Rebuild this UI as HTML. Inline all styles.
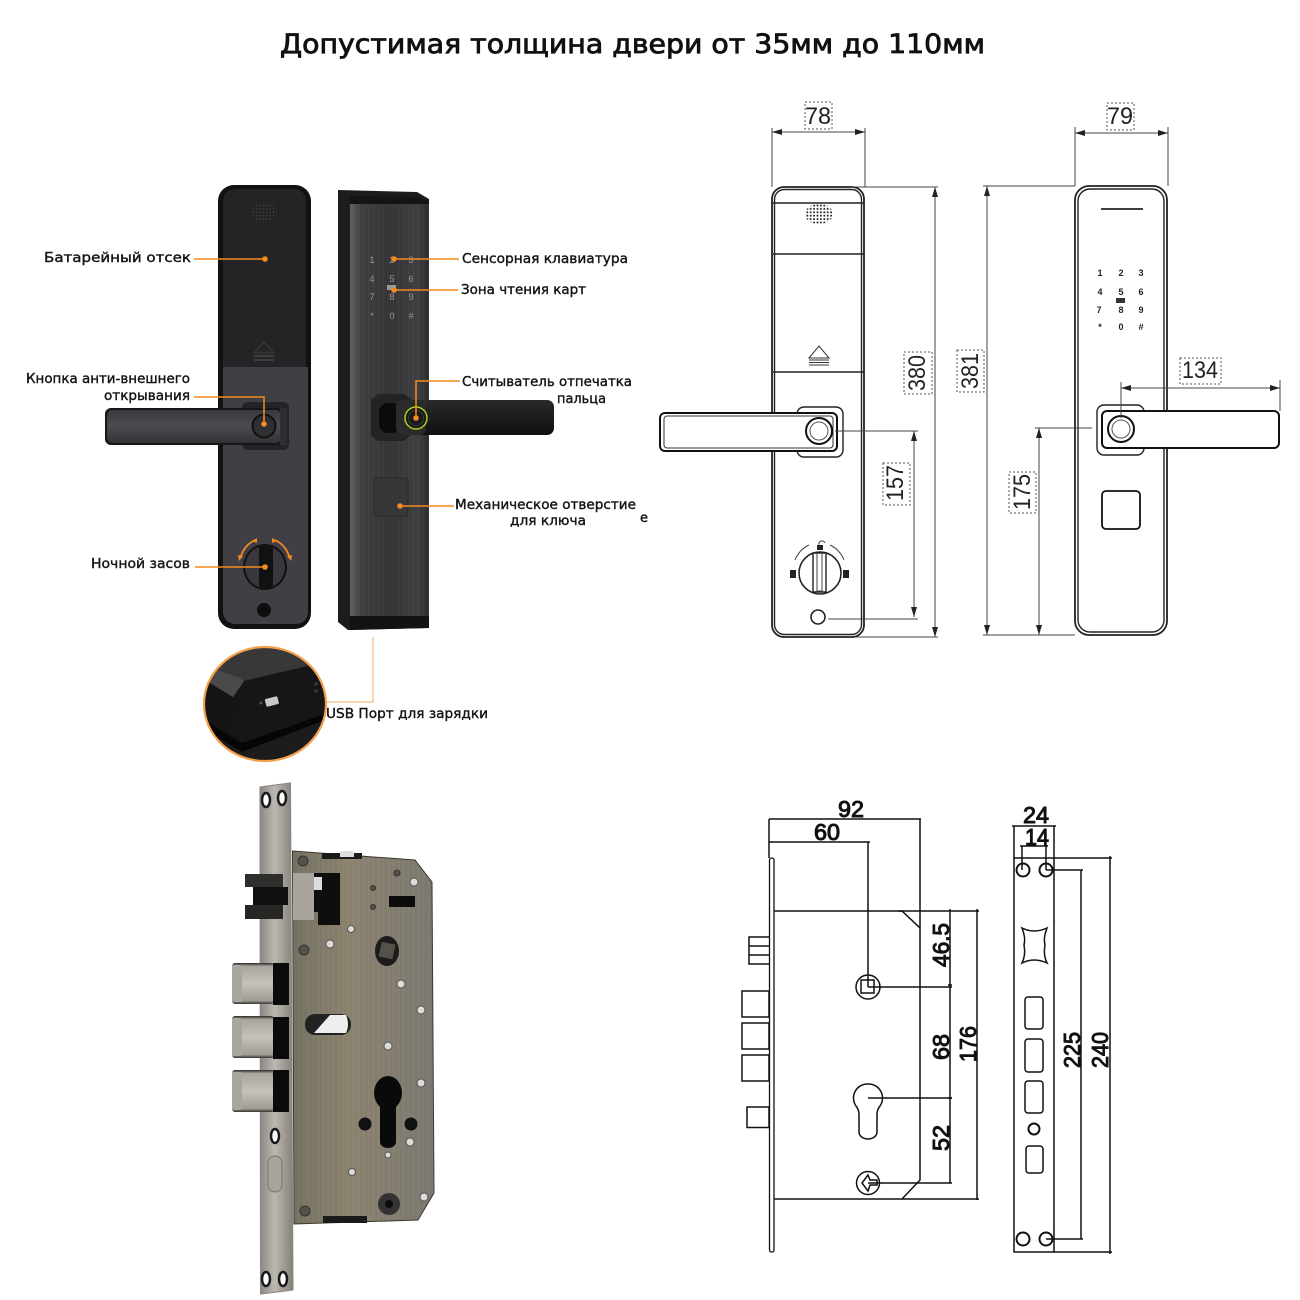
<!DOCTYPE html>
<html lang="ru"><head><meta charset="utf-8"><title>Замок</title>
<style>html,body{margin:0;padding:0;background:#fff}svg{display:block}
.l{font:13px "DejaVu Sans","Liberation Sans",sans-serif;fill:#141414;stroke:#141414;stroke-width:.38}
.d{font:24px "Liberation Sans",sans-serif;fill:#222}
.m{font:23px "Liberation Sans",sans-serif;fill:#111;stroke:#111;stroke-width:1}
.k{font:bold 9px "Liberation Sans",sans-serif;fill:#222;text-anchor:middle}
.f{font:9px "Liberation Sans",sans-serif;fill:#98989b;text-anchor:middle}
.o{stroke:#f58a1f;stroke-width:1.5;fill:none}
.t{stroke:#444;stroke-width:1;fill:none}
.s{stroke:#222;stroke-width:1.4;fill:none}
.b{stroke:#111;stroke-width:1.5;fill:none}
.x{fill:none;stroke:#555;stroke-width:1;stroke-dasharray:2 2}
</style></head><body>
<svg width="1300" height="1300" viewBox="0 0 1300 1300" xmlns="http://www.w3.org/2000/svg">
<defs>
<marker id="a" viewBox="0 0 10 6" refX="10" refY="3" markerWidth="10" markerHeight="6" orient="auto-start-reverse" markerUnits="userSpaceOnUse"><path d="M0 0L10 3L0 6Z" fill="#222"/></marker>
<linearGradient id="fr" x1="0" x2="1" y1="0" y2="0"><stop offset="0" stop-color="#626264"/><stop offset=".14" stop-color="#414143"/><stop offset=".5" stop-color="#363638"/><stop offset=".85" stop-color="#404042"/><stop offset="1" stop-color="#2e2e30"/></linearGradient>
<linearGradient id="hd" x1="0" x2="0" y1="0" y2="1"><stop offset="0" stop-color="#2a2a2c"/><stop offset=".5" stop-color="#1c1c1e"/><stop offset="1" stop-color="#101011"/></linearGradient>
<linearGradient id="hl" x1="0" x2="0" y1="0" y2="1"><stop offset="0" stop-color="#3a393e"/><stop offset=".5" stop-color="#4c4b50"/><stop offset="1" stop-color="#333237"/></linearGradient>
<linearGradient id="fp" x1="0" x2="1" y1="0" y2="0"><stop offset="0" stop-color="#8c8782"/><stop offset=".45" stop-color="#bcb8b1"/><stop offset="1" stop-color="#85807a"/></linearGradient>
<linearGradient id="bd" x1="0" x2="1" y1="0" y2="0"><stop offset="0" stop-color="#767264"/><stop offset=".4" stop-color="#8d8470"/><stop offset="1" stop-color="#7d7a72"/></linearGradient>
<linearGradient id="bt" x1="0" x2="0" y1="0" y2="1"><stop offset="0" stop-color="#2a2927"/><stop offset=".08" stop-color="#a9a59d"/><stop offset=".5" stop-color="#c6c2ba"/><stop offset=".92" stop-color="#a19d95"/><stop offset="1" stop-color="#35332f"/></linearGradient>
<pattern id="br" width="5" height="40" patternUnits="userSpaceOnUse"><path d="M1 0V40" stroke="#000" stroke-opacity=".18"/><path d="M3.5 0V40" stroke="#fff" stroke-opacity=".05"/></pattern>
<pattern id="dot" width="3.4" height="3.4" patternUnits="userSpaceOnUse"><circle cx="1.5" cy="1.5" r=".8" fill="#444"/></pattern>
<pattern id="dot2" width="3.4" height="3.4" patternUnits="userSpaceOnUse"><circle cx="1.5" cy="1.5" r="1" fill="#222"/></pattern>
<clipPath id="usb"><ellipse cx="265" cy="704" rx="60" ry="56"/></clipPath>
</defs>

<text x="280" y="53" font-family="'DejaVu Sans','Liberation Sans',sans-serif" font-size="27" fill="#111" stroke="#111" stroke-width=".85" textLength="705" lengthAdjust="spacingAndGlyphs">Допустимая толщина двери от 35мм до 110мм</text>

<!-- BACK PLATE PHOTO -->
<rect x="218" y="185" width="93" height="444" rx="16" fill="#121213"/>
<path d="M223 201a12 12 0 0 1 12-12h59a12 12 0 0 1 12 12V367H223Z" fill="#242426"/>
<path d="M223 367H308V612a12 12 0 0 1-12 12H235a12 12 0 0 1-12-12Z" fill="#403f45"/>
<ellipse cx="264" cy="212" rx="13" ry="10" fill="url(#dot)"/>
<path d="M264 342L254 353H274Z" fill="none" stroke="#3d3d40"/>
<rect x="254" y="355" width="20" height="2" fill="#3d3d40"/><rect x="254" y="359" width="20" height="2" fill="#3d3d40"/>
<rect x="242" y="402" width="47" height="48" rx="6" fill="#232325"/>
<rect x="105" y="408" width="178" height="37" rx="6" fill="#171718"/>
<rect x="107" y="410" width="174" height="33" rx="5" fill="url(#hl)"/>
<rect x="280" y="408" width="7" height="37" fill="#2f2e32"/>
<circle cx="264" cy="426" r="12.500" fill="#111"/><circle cx="264" cy="426" r="10.500" fill="#2f2e31"/>
<ellipse cx="265" cy="567" rx="22" ry="23" fill="#111"/><ellipse cx="265" cy="567" rx="20" ry="21" fill="#39383d"/>
<rect x="259" y="546" width="14" height="42" rx="3" fill="#111"/>
<path d="M241 556a27 27 0 0 1 14-16M289 556a27 27 0 0 0-14-16" stroke="#f58a1f" stroke-width="1.8" fill="none"/>
<path d="M239 561l-1-6 5 1ZM291 561l1-6-5 1ZM257 538l0 5-5-2ZM272 538l0 5 5-2Z" fill="#f58a1f"/>
<circle cx="264" cy="610" r="7" fill="#0e0e0f"/>

<!-- FRONT PLATE PHOTO -->
<path d="M338 190L417 192L429 199V628L348 630L338 622Z" fill="#1c1c1d"/>
<rect x="350" y="203" width="79" height="413" fill="url(#fr)"/>
<rect x="350" y="203" width="79" height="413" fill="url(#br)" opacity=".4"/>
<path d="M350 196L417 197L429 201V204H350Z" fill="#141416"/>
<path d="M350 616H429V628L350 630Z" fill="#131314"/>
<text class="f" x="372" y="263">1</text><text class="f" x="392" y="263">2</text><text class="f" x="411" y="263">3</text>
<text class="f" x="372" y="282">4</text><text class="f" x="392" y="282">5</text><text class="f" x="411" y="282">6</text>
<text class="f" x="372" y="300">7</text><text class="f" x="392" y="300">8</text><text class="f" x="411" y="300">9</text>
<text class="f" x="372" y="319">*</text><text class="f" x="392" y="319">0</text><text class="f" x="411" y="319">#</text>
<rect x="387" y="285" width="9" height="5" fill="#999"/>
<path d="M371 400L378 394H404L412 400V434L404 441H378L371 436Z" fill="#242425"/>
<rect x="379" y="403" width="22" height="30" rx="9" fill="#0b0b0c"/>
<rect x="396" y="400" width="158" height="35" rx="7" fill="url(#hd)"/>
<rect x="396" y="400" width="30" height="35" rx="7" fill="#2b2b2d"/>
<circle cx="416" cy="418" r="11" fill="#1a1a1b" stroke="#a5d21e" stroke-width="1.5"/>
<circle cx="416" cy="418" r="7.500" fill="none" stroke="#3a3a3c"/>
<rect x="374" y="478" width="34" height="38" rx="3" fill="#37373a" stroke="#29292b"/>

<!-- USB inset -->
<ellipse cx="265" cy="704" rx="61" ry="57" fill="#151516"/>
<g clip-path="url(#usb)">
<path d="M200 640H330V660L308 666L244 681L233 697L207 681L200 675Z" fill="#38383a"/>
<path d="M207 681L233 697L244 681L240 678L212 668Z" fill="#4a4a4c"/>
<path d="M244 681L308 666L330 660V712L242 743L233 725Z" fill="#161617"/>
<path d="M207 722L242 743L325 714V720L242 752L205 730Z" fill="#060607"/>
<path d="M205 730L242 752L325 720V770H200Z" fill="#1c1c1d"/>
<rect x="265" y="697" width="14" height="9" rx="2" fill="#c9c9c9" stroke="#111" transform="rotate(-14 272 702)"/>
<circle cx="261" cy="703" r="1.500" fill="#555"/>
<circle cx="316" cy="684" r="2" fill="#333"/><circle cx="316" cy="691" r="2" fill="#333"/>
</g>
<ellipse cx="265" cy="704" rx="61" ry="57" fill="none" stroke="#f5a04a" stroke-width="2.2"/>
<path d="M373 637V702H326" stroke="#f5a862" stroke-width="1" fill="none"/>

<!-- Leaders -->
<path class="o" d="M194 259H264"/><circle cx="265" cy="259" r="2.800" fill="#f58a1f"/>
<path class="o" d="M394 259H459"/><circle cx="394" cy="259" r="2.800" fill="#f58a1f"/>
<path class="o" d="M394 290H458"/><circle cx="394" cy="290" r="2.800" fill="#f58a1f"/>
<path class="o" d="M194 397H264V425"/><circle cx="264" cy="424" r="2.800" fill="#f58a1f"/>
<path class="o" d="M460 381H416V418"/><circle cx="416" cy="418" r="2.800" fill="#f58a1f"/>
<path class="o" d="M454 506H400"/><circle cx="400" cy="506" r="2.800" fill="#f58a1f"/>
<path class="o" d="M195 567H265"/><circle cx="265" cy="567" r="2.800" fill="#f58a1f"/>

<text class="l" x="44" y="262" textLength="147" lengthAdjust="spacingAndGlyphs">Батарейный отсек</text>
<text class="l" x="26" y="383" textLength="164" lengthAdjust="spacingAndGlyphs">Кнопка анти-внешнего</text>
<text class="l" x="104" y="400" textLength="86" lengthAdjust="spacingAndGlyphs">открывания</text>
<text class="l" x="91" y="568" textLength="99" lengthAdjust="spacingAndGlyphs">Ночной засов</text>
<text class="l" x="462" y="263" textLength="166" lengthAdjust="spacingAndGlyphs">Сенсорная клавиатура</text>
<text class="l" x="461" y="294" textLength="125" lengthAdjust="spacingAndGlyphs">Зона чтения карт</text>
<text class="l" x="462" y="386" textLength="170" lengthAdjust="spacingAndGlyphs">Считыватель отпечатка</text>
<text class="l" x="557" y="403" textLength="49" lengthAdjust="spacingAndGlyphs">пальца</text>
<text class="l" x="455" y="509" textLength="181" lengthAdjust="spacingAndGlyphs">Механическое отверстие</text>
<text class="l" x="510" y="525" textLength="76" lengthAdjust="spacingAndGlyphs">для ключа</text>
<text class="l" x="326" y="718" textLength="162" lengthAdjust="spacingAndGlyphs">USB Порт для зарядки</text>
<text class="l" x="640" y="522" font-size="9">e</text>

<!-- TECH DRAWING TOP LEFT -->
<rect x="772" y="187" width="92" height="450" rx="12" fill="none" stroke="#222" stroke-width="1.8"/>
<rect x="774.500" y="189.500" width="87" height="445" rx="10" class="s"/>
<path class="s" d="M772 203H864M773 254H864M773 372H864"/>
<ellipse cx="819" cy="214" rx="14" ry="10" fill="url(#dot2)"/>
<path d="M819 346L809 358H829Z" fill="#fff" stroke="#333"/>
<path d="M809 360H829M809 362.500H829M809 365H829" stroke="#333"/>
<rect x="797" y="407" width="46" height="50" rx="7" fill="#fff" stroke="#222" stroke-width="1.4"/>
<rect x="660" y="413" width="177" height="38" rx="5" fill="#fff" stroke="#111" stroke-width="2"/>
<rect x="664" y="416" width="169" height="32" rx="3" fill="none" stroke="#333"/>
<circle cx="819" cy="431" r="13" fill="#fff" stroke="#111" stroke-width="2"/><circle cx="819" cy="431" r="9" fill="none" stroke="#555"/>
<circle cx="820" cy="573" r="21" fill="#fff" stroke="#222" stroke-width="1.6"/>
<path d="M813 553H826V592H813Z" fill="#fff" stroke="#222" stroke-width="1.400"/><path d="M817 554V591H822V554" stroke="#444" fill="none"/>
<path d="M795 560a28 28 0 0 1 14-15M844 560a28 28 0 0 0-14-15" class="t"/>
<rect x="790" y="570" width="6" height="8" fill="#222"/><rect x="843" y="570" width="6" height="8" fill="#222"/><rect x="817" y="545" width="6" height="5" fill="#222"/>
<path d="M819 545a3 3 0 0 1 6-2" class="t"/>
<circle cx="818" cy="617" r="7" fill="#fff" stroke="#222" stroke-width="1.6"/>
<!-- dims left -->
<path class="t" d="M772 128V187M865 128V187"/><path class="t" d="M772 132H865" marker-start="url(#a)" marker-end="url(#a)"/>
<rect class="x" x="805" y="102" width="27" height="27" fill="#fff"/><text class="d" x="818" y="124" text-anchor="middle" textLength="26" lengthAdjust="spacingAndGlyphs">78</text>
<path class="t" d="M850 187H938M855 637H938"/><path class="t" d="M935 187V637" marker-start="url(#a)" marker-end="url(#a)"/>
<rect class="x" x="904" y="352" width="28" height="42"/><text class="d" transform="translate(925 373) rotate(-90)" text-anchor="middle" textLength="36" lengthAdjust="spacingAndGlyphs">380</text>
<path class="t" d="M835 431H918M828 619H918"/><path class="t" d="M914 431V617" marker-start="url(#a)" marker-end="url(#a)"/>
<rect class="x" x="883" y="463" width="27" height="42"/><text class="d" transform="translate(903 483) rotate(-90)" text-anchor="middle" textLength="36" lengthAdjust="spacingAndGlyphs">157</text>

<!-- TECH DRAWING TOP RIGHT -->
<rect x="1075" y="186" width="92" height="449" rx="14" fill="none" stroke="#222" stroke-width="1.8"/>
<rect x="1078" y="189" width="86" height="443" rx="12" class="s"/>
<path d="M1101 209H1143" stroke="#222" stroke-width="1.8"/>
<text class="k" x="1100" y="276">1</text><text class="k" x="1121" y="276">2</text><text class="k" x="1141" y="276">3</text>
<text class="k" x="1100" y="295">4</text><text class="k" x="1121" y="295">5</text><text class="k" x="1141" y="295">6</text>
<text class="k" x="1099" y="313">7</text><text class="k" x="1121" y="313">8</text><text class="k" x="1141" y="313">9</text>
<text class="k" x="1100" y="330">*</text><text class="k" x="1121" y="330">0</text><text class="k" x="1141" y="330">#</text>
<rect x="1116" y="298" width="9" height="5" fill="#333"/>
<rect x="1097" y="405" width="47" height="50" rx="7" fill="#fff" stroke="#222" stroke-width="1.4"/>
<rect x="1102" y="411" width="177" height="37" rx="5" fill="#fff" stroke="#111" stroke-width="2"/>
<circle cx="1121" cy="429" r="13" fill="#fff" stroke="#111" stroke-width="2"/><circle cx="1121" cy="429" r="9" fill="none" stroke="#555"/>
<rect x="1102" y="491" width="38" height="38" rx="4" fill="#fff" stroke="#111" stroke-width="1.8"/>
<!-- dims right -->
<path class="t" d="M1075 127V186M1168 127V186"/><path class="t" d="M1075 133H1168" marker-start="url(#a)" marker-end="url(#a)"/>
<rect class="x" x="1107" y="103" width="27" height="27"/><text class="d" x="1120" y="124" text-anchor="middle" textLength="26" lengthAdjust="spacingAndGlyphs">79</text>
<path class="t" d="M983 186H1075M983 635H1075"/><path class="t" d="M987 186V635" marker-start="url(#a)" marker-end="url(#a)"/>
<rect class="x" x="957" y="350" width="27" height="42"/><text class="d" transform="translate(978 371) rotate(-90)" text-anchor="middle" textLength="36" lengthAdjust="spacingAndGlyphs">381</text>
<path class="t" d="M1035 428H1092M1040 635H1075"/><path class="t" d="M1039 428V635" marker-start="url(#a)" marker-end="url(#a)"/>
<rect class="x" x="1009" y="472" width="27" height="41"/><text class="d" transform="translate(1030 492) rotate(-90)" text-anchor="middle" textLength="36" lengthAdjust="spacingAndGlyphs">175</text>
<path class="t" d="M1121 382V418M1280 380V411"/><path class="t" d="M1121 388H1280" marker-start="url(#a)" marker-end="url(#a)"/>
<rect class="x" x="1180" y="358" width="41" height="26"/><text class="d" x="1200" y="378" text-anchor="middle" textLength="36" lengthAdjust="spacingAndGlyphs">134</text>

<!-- LOCK PHOTO -->
<path d="M260 787L290.500 783L293 1290L260.500 1294Z" fill="url(#fp)" stroke="#8a8580"/>
<path d="M292.500 851L415 860L432 882L434 1193L418 1220L294 1224Z" fill="url(#bd)" stroke="#3a382f"/>
<path d="M292.500 851L415 860L432 882L434 1193L418 1220L294 1224Z" fill="url(#br)" opacity=".25"/>
<path d="M293 873H340V925H318V912H293Z" fill="#0d0d0d"/>
<path d="M293 873H314V920H293Z" fill="#a9a59e"/><path d="M314 877H322V890H314Z" fill="#dcdcdc"/>
<rect x="245" y="874" width="38" height="13" fill="#2e2e2c"/><rect x="253" y="887" width="35" height="18" fill="#0f0f0f"/><rect x="245" y="905" width="38" height="14" fill="#262624"/>
<rect x="232" y="963" width="42" height="41" rx="3" fill="url(#bt)"/><rect x="273" y="963" width="16" height="42" fill="#0b0b0b"/><rect x="232" y="965" width="10" height="37" rx="2" fill="#a9a69f"/>
<rect x="232" y="1016" width="42" height="42" rx="3" fill="url(#bt)"/><rect x="273" y="1017" width="16" height="42" fill="#0b0b0b"/><rect x="232" y="1018" width="10" height="38" rx="2" fill="#a9a69f"/>
<rect x="232" y="1070" width="42" height="42" rx="3" fill="url(#bt)"/><rect x="273" y="1070" width="16" height="42" fill="#0b0b0b"/><rect x="232" y="1072" width="10" height="38" rx="2" fill="#a9a69f"/>
<rect x="305" y="1014" width="46" height="21" rx="10" fill="#222"/><path d="M314 1033L330 1015H346Q350 1024 346 1033Z" fill="#eee"/>
<ellipse cx="387" cy="951" rx="12" ry="15" fill="#1c1c1c"/><rect x="380" y="943" width="14" height="15" fill="#55524a" transform="rotate(12 387 951)"/>
<path d="M374 1093a14 17 0 0 1 28 0q0 8-6 14v35a8 6 0 0 1-16 0v-35q-6-6-6-14Z" fill="#0a0a0a"/>
<circle cx="365" cy="1124" r="6.500" fill="#111"/><circle cx="411" cy="1124" r="6.500" fill="#111"/>
<circle cx="389" cy="1204" r="11" fill="#333"/><circle cx="389" cy="1204" r="4" fill="#0c0c0c"/>
<rect x="389" y="896" width="26" height="11" fill="#0c0c0c"/>
<rect x="322" y="853" width="40" height="6" fill="#1a1a1a"/><rect x="340" y="851" width="14" height="6" fill="#ddd"/>
<rect x="323" y="1216" width="44" height="7" fill="#1a1a1a"/>
<g fill="#dcdcd8" stroke="#555"><circle cx="414" cy="882" r="4"/><circle cx="401" cy="984" r="4"/><circle cx="421" cy="1010" r="4"/><circle cx="388" cy="1046" r="4"/><circle cx="421" cy="1083" r="4"/><circle cx="410" cy="1142" r="4"/><circle cx="352" cy="1172" r="3.500"/><circle cx="388" cy="1155" r="3"/><circle cx="351" cy="929" r="3.500"/><circle cx="330" cy="944" r="4"/><circle cx="424" cy="1197" r="4"/></g>
<g fill="#55524a" stroke="#333"><circle cx="303" cy="861" r="5"/><circle cx="304" cy="950" r="5"/><circle cx="305" cy="1211" r="5"/><circle cx="397" cy="873" r="3"/><circle cx="373" cy="888" r="2.500"/><circle cx="373" cy="907" r="2.500"/></g>
<g fill="#fff" stroke="#1a1a1a" stroke-width="2.500"><ellipse cx="266" cy="800" rx="4" ry="7"/><ellipse cx="282" cy="798" rx="4" ry="7"/><ellipse cx="266" cy="1279" rx="4" ry="7"/><ellipse cx="283" cy="1279" rx="4" ry="7"/><ellipse cx="275" cy="1136" rx="4" ry="7"/></g>
<rect x="268" y="1156" width="14" height="36" rx="7" fill="#a8a49d" stroke="#77736d"/>

<!-- LOCK DRAWING LEFT -->
<rect x="769.500" y="858" width="4.500" height="394" rx="2" fill="#fff" stroke="#111" stroke-width="1.300"/>
<path class="b" d="M774 911H902L920 928V1180L902 1199H774"/>
<path class="b" d="M920 928V819"/>
<path class="b" d="M769 937H749V964H769M749 946H769M749 955H769"/>
<rect class="b" x="742" y="991" width="27" height="26"/><rect class="b" x="742" y="1023" width="27" height="26"/><rect class="b" x="742" y="1055" width="27" height="26"/><rect class="b" x="747" y="1107" width="22" height="20.500"/>
<circle class="b" cx="868" cy="987" r="12"/><rect class="b" x="861" y="980" width="13" height="13"/>
<path class="b" d="M868 1084a14 14 0 0 1 12 22q-3 4-3 8v18a9 7 0 0 1-18 0v-18q0-4-3-8a14 14 0 0 1 12-22Z"/>
<circle class="b" cx="868" cy="1183" r="11.500"/><path class="b" d="M868 1175l-6 8 6 8 2-6h7v-5h-7Z"/>
<path class="b" d="M769 819H921M769 819V858M769 842H870M868 842V987M868 987H952M868 1098H952M868 1183H952M898 911H979M902 1199H979"/>
<path class="b" d="M950 909V1183M977 909V1200M948 985H952M948 1098H952"/>
<text class="m" x="851" y="817" text-anchor="middle" textLength="26" lengthAdjust="spacingAndGlyphs">92</text>
<text class="m" x="827" y="840" text-anchor="middle" textLength="26" lengthAdjust="spacingAndGlyphs">60</text>
<text class="m" transform="translate(949 945) rotate(-90)" text-anchor="middle" textLength="44" lengthAdjust="spacingAndGlyphs">46.5</text>
<text class="m" transform="translate(949 1047) rotate(-90)" text-anchor="middle" textLength="26" lengthAdjust="spacingAndGlyphs">68</text>
<text class="m" transform="translate(949 1138) rotate(-90)" text-anchor="middle" textLength="26" lengthAdjust="spacingAndGlyphs">52</text>
<text class="m" transform="translate(976 1044) rotate(-90)" text-anchor="middle" textLength="36" lengthAdjust="spacingAndGlyphs">176</text>

<!-- LOCK DRAWING RIGHT -->
<rect class="b" x="1014" y="858" width="40" height="394"/>
<g fill="none" stroke="#111" stroke-width="2"><circle cx="1023" cy="870" r="6.500"/><circle cx="1046" cy="870" r="6.500"/><circle cx="1023" cy="1239" r="6.500"/><circle cx="1046" cy="1239" r="6.500"/></g>
<path class="b" d="M1022 928Q1034 934 1047 928Q1043 938 1045 945Q1043 955 1047 963Q1034 957 1022 963Q1026 955 1024 945Q1026 938 1022 928Z"/>
<rect class="b" x="1025" y="997" width="18" height="32" rx="3"/><rect class="b" x="1025" y="1039" width="18" height="33" rx="3"/><rect class="b" x="1025" y="1081" width="18" height="32" rx="3"/><rect class="b" x="1026" y="1146" width="17" height="27" rx="3"/>
<circle cx="1034" cy="1129" r="5.500" fill="none" stroke="#111" stroke-width="2"/>
<path class="b" d="M1014 858V826H1054V858M1012 826H1056M1022 870V846H1046V870M1020 846H1048"/>
<path class="b" d="M1054 858H1112M1046 870H1083M1046 1239H1083M1054 1252H1112M1110 856V1254M1081 870V1239"/>
<text class="m" x="1036" y="823" text-anchor="middle" textLength="26" lengthAdjust="spacingAndGlyphs">24</text>
<text class="m" x="1037" y="845" text-anchor="middle" textLength="24" lengthAdjust="spacingAndGlyphs">14</text>
<text class="m" transform="translate(1080 1050) rotate(-90)" text-anchor="middle" textLength="36" lengthAdjust="spacingAndGlyphs">225</text>
<text class="m" transform="translate(1108 1050) rotate(-90)" text-anchor="middle" textLength="36" lengthAdjust="spacingAndGlyphs">240</text>
</svg>
</body></html>
